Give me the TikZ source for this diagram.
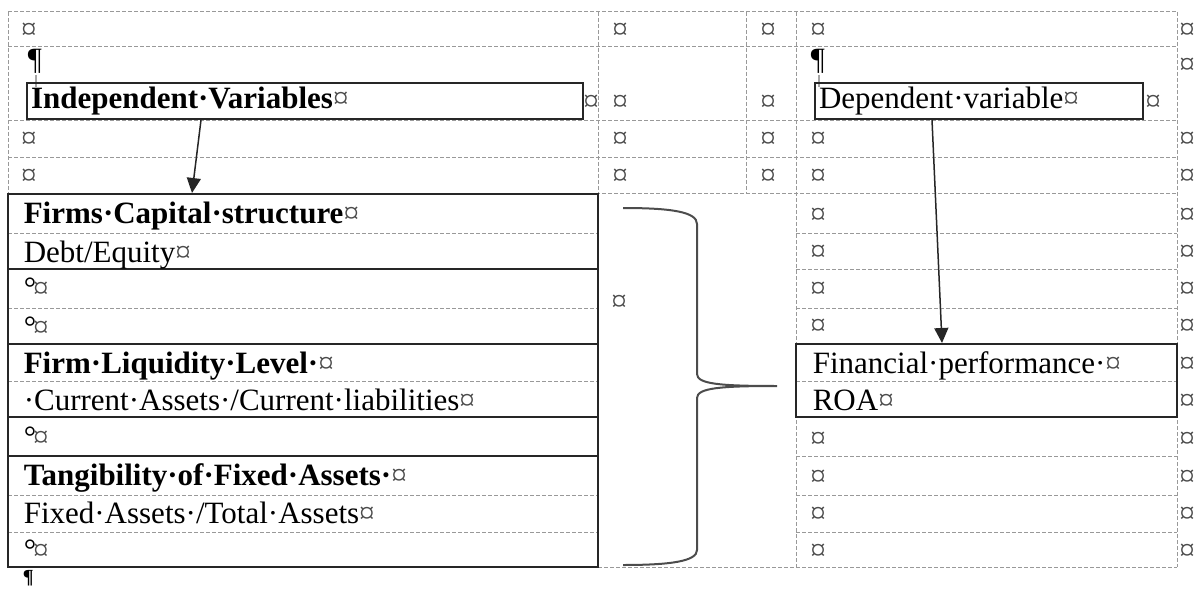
\documentclass[tikz,border=0pt]{standalone}
\usepackage{fontspec}
\setmainfont{Liberation Serif}
\usetikzlibrary{arrows.meta,positioning}
\newcommand{\cmk}{{\color{black!70}¤}}

\begin{document}
\begin{tikzpicture}[x=0.5pt, y=-0.5pt, thick]

	\tikzstyle{grid}=[black!40, line width=0.5pt, dash pattern=on 2pt off 1pt]
	\tikzstyle{rule}=[black!85, line width=1pt]
	\tikzstyle{txt}=[anchor=base west, inner sep=0pt, text=black, font=\fontsize{15.5}{18}\selectfont]
	\tikzstyle{cellmk}=[inner sep=0pt, text=black!70, font=\fontsize{15.5}{18}\selectfont]
	\tikzstyle{tbox}=[rectangle, draw=black!85, line width=1pt, inner xsep=2pt, inner ysep=0pt, minimum height=18pt, align=left, font=\fontsize{15.5}{18}\selectfont]
	\tikzstyle{brace}=[black!70, line width=1pt]

	\useasboundingbox (0,0) rectangle (1197,588);

	% dashed grid of the page table
	\foreach \y in {12,47,121,158,194} \draw[grid] (8,\y) -- (1177,\y);
	\foreach \y in {233,269,308,381,456,495,532,567} \draw[grid] (796,\y) -- (1177,\y);
	\draw[grid] (598,567) -- (796,567);
	\foreach \x in {8,598,746} \draw[grid] (\x,12) -- (\x,194);
	\foreach \x in {796,1177} \draw[grid] (\x,12) -- (\x,567);

	% inner tables
	\foreach \y in {233,308,381,495,532} \draw[grid] (8,\y) -- (598,\y);
	\draw[rule] (8,194) rectangle (598,567);
	\foreach \y in {269,344,417,456} \draw[rule] (8,\y) -- (598,\y);
	\draw[rule] (796,344) rectangle (1177,417);

	% left column
	\node[txt] (capst) at (23,223) {\textbf{Firms·Capital·structure}\cmk};
	\node[txt] (debteq) at (23,262) {Debt/Equity\cmk};
	\node[txt] (blank1) at (23,298) {°\kern-1.5pt\cmk};
	\node[txt] (blank2) at (23,337) {°\kern-1.5pt\cmk};
	\node[txt] (liqlev) at (23,373) {\textbf{Firm·Liquidity·Level·}\cmk};
	\node[txt] (curratio) at (23,410) {·Current·Assets·/Current·liabilities\cmk};
	\node[txt] (blank3) at (23,447) {°\kern-1.5pt\cmk};
	\node[txt] (tangib) at (23,485) {\textbf{Tangibility·of·Fixed·Assets·}\cmk};
	\node[txt] (fixratio) at (23,523) {Fixed·Assets·/Total·Assets\cmk};
	\node[txt] (blank4) at (23,560) {°\kern-1.5pt\cmk};

	% right column
	\node[txt] (finperf) at (812,373) {Financial·performance·\cmk};
	\node[txt] (roa) at (812,410) {ROA\cmk};
	\foreach \y [count=\i] in {216,253,290,327,440,478,515,552} \node[cellmk] (rc\i) at (818,\y) {¤};
	\node[cellmk] (mid) at (619,303) {¤};

	% cell marks of the top rows
	\foreach \y [count=\i] in {31,140,177} {
		\node[cellmk] (ca\i) at (29,\y) {¤};
		\node[cellmk] (cb\i) at (620,\y) {¤};
		\node[cellmk] (cc\i) at (768,\y) {¤};
		\node[cellmk] (cd\i) at (818,\y) {¤};
	}
	\node[cellmk] (cb0) at (620,103) {¤};
	\node[cellmk] (cc0) at (768,103) {¤};
	\node[cellmk] (cd0) at (1153,103) {¤};
	\node[cellmk] (ca0) at (591,103) {¤};

	% end of row marks
	\foreach \y [count=\i] in {31,66,140,177,216,253,290,327,365,402,440,478,515,552} \node[cellmk] (re\i) at (1187,\y) {¤};

	% paragraph marks
	\node[txt] (parA) at (27,70) {¶};
	\node[txt] (parB) at (810,70) {¶};
	\draw[black!35, line width=1pt] (parA.south) ++(1,0) -- +(0,12);
	\draw[black!35, line width=1pt] (parB.south) ++(1,0) -- +(0,12);
	\node[txt, anchor=south west, font=\fontsize{10}{12}\bfseries] (parC) at (22,587) {¶};

	% text boxes
	\node[tbox, text width=274pt] (indep) at (305,101) {\textbf{Independent·Variables}\cmk};
	\node[tbox, text width=160pt] (dep) at (979,101) {Dependent·variable\cmk};

	\coordinate (tipA) at (192,193);
	\coordinate (tipB) at (942,343);
	\draw[-{Triangle[length=7.5pt,width=7pt]}, line width=0.75pt, black!85] ([xshift=87.5pt]indep.south west) -- (tipA);
	\draw[-{Triangle[length=7.5pt,width=7pt]}, line width=0.75pt, black!85] ([xshift=59pt]dep.south west) -- (tipB);

	% brace
	\draw[brace] (623,208) .. controls (672,208) and (697,212) .. (697,224) -- (697,374) .. controls (697,384) and (720,386) .. (777,386) .. controls (720,386) and (697,388) .. (697,398) -- (697,550) .. controls (697,561) and (672,565) .. (623,565);

\end{tikzpicture}
\end{document}
